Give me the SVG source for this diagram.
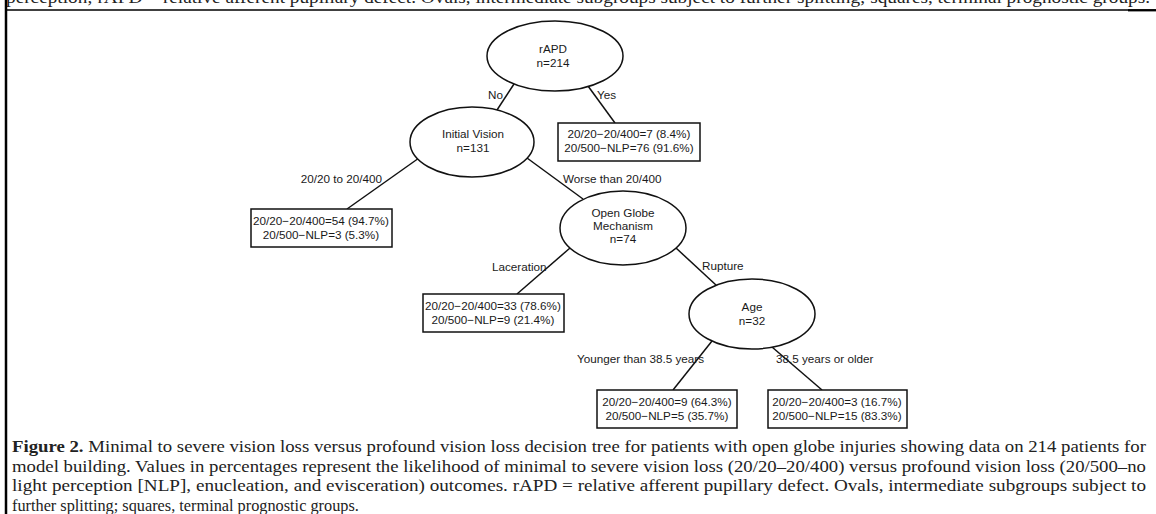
<svg xmlns="http://www.w3.org/2000/svg" width="1156" height="514" viewBox="0 0 1156 514">
<style>
.node ellipse,.node rect{fill:#fff;stroke:#111;stroke-width:1.5}
.t{font-family:"Liberation Sans",Arial,sans-serif;font-size:11.7px;fill:#1a1a1a;text-anchor:middle}
.lbl{font-family:"Liberation Sans",Arial,sans-serif;font-size:11.7px;fill:#1a1a1a}
.edges line{stroke:#111;stroke-width:1.5}
.cap{font-family:"Liberation Serif","Times New Roman",serif;font-size:16.3px;fill:#222}
</style>
<rect width="1156" height="514" fill="#fff"/>
<text class="cap" x="6" y="3" textLength="1144" lengthAdjust="spacingAndGlyphs">perception; rAPD = relative afferent pupillary defect. Ovals, intermediate subgroups subject to further splitting; squares, terminal prognostic groups.</text>
<line x1="6" y1="10" x2="1156" y2="10" stroke="#000" stroke-width="1.5"/>
<line x1="1128" y1="10.3" x2="1156" y2="10.3" stroke="#000" stroke-width="2.2"/>
<line x1="6" y1="0" x2="6" y2="514" stroke="#000" stroke-width="2.5"/>
<g class="edges">
<line x1="514" y1="84" x2="497" y2="110"/>
<line x1="588" y1="86" x2="615" y2="123"/>
<line x1="419" y1="158" x2="347" y2="209"/>
<line x1="527" y1="158" x2="583" y2="199"/>
<line x1="570" y1="248" x2="517" y2="294"/>
<line x1="676" y1="248" x2="716" y2="285"/>
<line x1="712" y1="341" x2="673" y2="390"/>
<line x1="772" y1="347" x2="822" y2="390"/>
</g>
<g class="labels">
<text class="lbl" x="488" y="99">No</text>
<text class="lbl" x="597" y="99">Yes</text>
<text class="lbl" x="382" y="183" text-anchor="end">20/20 to 20/400</text>
<text class="lbl" x="563" y="183">Worse than 20/400</text>
<text class="lbl" x="492" y="271">Laceration</text>
<text class="lbl" x="702" y="270">Rupture</text>
<text class="lbl" x="704" y="363" text-anchor="end">Younger than 38.5 years</text>
<text class="lbl" x="776" y="363">38.5 years or older</text>
</g>
<g id="n-rapd" class="node"><ellipse cx="555" cy="56" rx="68" ry="35"/><text class="t" x="553" y="53">rAPD</text><text class="t" x="553" y="67">n=214</text></g>
<g id="n-yes" class="node"><rect x="558" y="123" width="142" height="38"/><text class="t" x="629" y="138">20/20−20/400=7 (8.4%)</text><text class="t" x="629" y="152">20/500−NLP=76 (91.6%)</text></g>
<g id="n-vision" class="node"><ellipse cx="472" cy="142" rx="62" ry="35"/><text class="t" x="473" y="138">Initial Vision</text><text class="t" x="473" y="152">n=131</text></g>
<g id="n-good" class="node"><rect x="251" y="209" width="141" height="38"/><text class="t" x="321" y="225">20/20−20/400=54 (94.7%)</text><text class="t" x="321" y="239">20/500−NLP=3 (5.3%)</text></g>
<g id="n-mech" class="node"><ellipse cx="623" cy="228" rx="63" ry="37"/><text class="t" x="623" y="217">Open Globe</text><text class="t" x="623" y="230">Mechanism</text><text class="t" x="623" y="243">n=74</text></g>
<g id="n-lac" class="node"><rect x="423" y="294" width="141" height="38"/><text class="t" x="493" y="310">20/20−20/400=33 (78.6%)</text><text class="t" x="493" y="324">20/500−NLP=9 (21.4%)</text></g>
<g id="n-age" class="node"><ellipse cx="752" cy="314" rx="63" ry="35"/><text class="t" x="752" y="311">Age</text><text class="t" x="752" y="325">n=32</text></g>
<g id="n-young" class="node"><rect x="597" y="390" width="140" height="38"/><text class="t" x="667" y="406">20/20−20/400=9 (64.3%)</text><text class="t" x="667" y="420">20/500−NLP=5 (35.7%)</text></g>
<g id="n-old" class="node"><rect x="768" y="390" width="139" height="38"/><text class="t" x="837" y="406">20/20−20/400=3 (16.7%)</text><text class="t" x="837" y="420">20/500−NLP=15 (83.3%)</text></g>
<g class="caption">
<text class="cap" x="12" y="452" textLength="1134" lengthAdjust="spacingAndGlyphs"><tspan font-weight="bold">Figure 2.</tspan> Minimal to severe vision loss versus profound vision loss decision tree for patients with open globe injuries showing data on 214 patients for</text>
<text class="cap" x="12" y="472" textLength="1134" lengthAdjust="spacingAndGlyphs">model building. Values in percentages represent the likelihood of minimal to severe vision loss (20/20–20/400) versus profound vision loss (20/500–no</text>
<text class="cap" x="12" y="491" textLength="1134" lengthAdjust="spacingAndGlyphs">light perception [NLP], enucleation, and evisceration) outcomes. rAPD = relative afferent pupillary defect. Ovals, intermediate subgroups subject to</text>
<text class="cap" x="12" y="511">further splitting; squares, terminal prognostic groups.</text>
</g>
</svg>
